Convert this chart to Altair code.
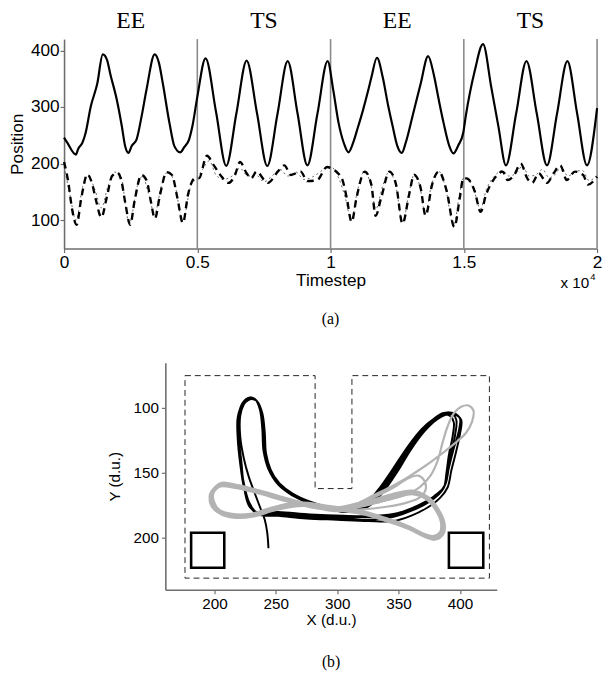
import altair as alt
import pandas as pd

# ---------------- panel (a) data ----------------
solid_t = [0,120,443,530,690,813,998,1245,1453,1614,1737,1983,2168,2291,2414,2537,2722,2907,3091,3400,
           3560,3708,3954,4139,4360,4508,4693,4815,5000,5310,5700,6085,6467,6850,7240,7625,8010,8390,8760,9130,
           9510,9890,10100,10300,10500,10670,10855,11000,11220,11410,11530,11740,11960,12150,12330,12500,12675,12820,13070,13380,
           13660,13870,14050,14240,14450,14610,14790,14980,15070,15410,15720,16030,16300,16580,16965,17350,17735,18120,18500,18885,
           19250,19620,20000]
solid_v = [246,237,216,226,237,255,300,341,393,383,358,312,266,231,219,231,243,283,330,393,
           378,341,272,231,220,229,243,266,318,386,292,196,289,382,289,196,288,381,289,197,
           289,381,330,272,236,220,238,260,295,329,352,387,352,305,266,232,219,237,283,341,
           390,358,315,272,232,218,232,255,283,364,411,335,265,197,289,381,289,197,289,381,
           289,197,298]

dash_t = [0,150,300,470,650,875,1050,1200,1400,1600,1800,2000,2150,2300,2480,2650,2900,3100,3250,3410,
          3600,3850,4050,4250,4460,4650,4900,5060,5360,5620,5864,6170,6415,6600,6850,7020,7220,7530,7650,8020,
          8267,8510,8880,9128,9500,9867,10000,10420,10605,10790,10975,11283,11530,11690,11900,12210,12457,12700,12950,13135,
          13380,13565,13810,14060,14360,14645,14850,14980,15100,15410,15630,15840,16150,16460,16640,16890,17135,17380,17565,17810,
          18120,18370,18620,18860,19170,19475,19660,20000]
dash_v = [203,170,120,92,140,181,165,135,105,140,178,184,170,130,92,135,180,170,135,103,
          145,185,180,140,95,145,174,174,214,197,180,166,180,203,183,174,186,170,166,186,
          197,180,186,169,171,194,192,174,140,97,140,186,163,108,140,186,163,94,146,180,
          157,108,163,186,151,88,140,174,174,151,115,146,174,186,171,180,200,174,166,183,
          166,183,197,171,186,180,163,177]

dot_t = [0,200,450,700,900,1150,1400,1650,1900,2100,2450,2750,2950,3150,3400,3650,3900,4150,4450,4750,
         5000,5200,5450,5700,6000,6300,6600,6900,7200,7500,7800,8100,8400,8700,9000,9300,9600,9900,10000,10300,
         10550,10780,11000,11250,11500,11700,11950,12200,12450,12700,12950,13150,13350,13550,13800,14050,14300,14620,14850,15000,
         15200,15400,15620,15850,16150,16450,16700,17000,17200,17450,17700,17950,18200,18450,18650,18900,19200,19450,19700,20000]
dot_v = [195,150,100,160,180,155,122,160,185,182,95,160,178,150,112,160,186,165,98,160,
         175,190,205,180,172,178,192,178,180,168,178,190,178,185,172,176,185,195,195,175,
         140,100,150,185,165,120,160,186,160,96,150,182,160,112,165,187,160,90,150,175,
         170,150,120,155,178,188,178,185,196,178,180,190,175,182,195,178,186,188,170,180]

sep_t = [5000, 10000, 15000, 20000]
phase_t = [2500, 7500, 12500, 17500]
phase_lbl = ["EE", "TS", "EE", "TS"]
xa_ticks = [0, 5000, 10000, 15000, 20000]
ya_ticks = [100, 200, 300, 400]

# ---------------- panel (b) data ----------------
wall_x = [176, 282, 282, 312, 312, 424, 424, 176, 176]
wall_y = [75, 75, 162, 162, 75, 75, 231, 231, 75]
box_x1 = [181, 391]
box_x2 = [208, 419]
box_y1 = [196, 196]
box_y2 = [223, 223]

black_x = [244,243,241,237,233,228,224,
           221,221,224,229,234,238,240,241,245,253,264,278,292,305,316,325,335,346,358,369,379,387,395,400,399,395,391,388,382,372,361,349,333,305,278,252,234,228,224,221,
           219,220,223,228,233,237,239,240,244,252,263,277,291,305,317,327,337,348,359,370,380,387,392,395,394,391,389,387,381,370,358,345,325,300,275,250,235,228,224,222,
           220,221,224,230,235,239,241,242,246,254,265,279,293,306,318,328,338,349,360,371,381,389,396,401,400,397,393,390,384,373,360,346,325,300,275,252,236,229,224,221,
           219,219,223,229,234,238,240,241,245,253,264,278,292,306,317,326,336,347,358,369,379,386,393,397,396,393,390,387,380,370,357,343,320,295,270,248,234]
black_y = [208,196,186,176,166,153,139,
           122,106,97,92,94,102,116,132,146,158,166,172,176,178,177,172,161,146,129,116,108,104,104,108,118,131,146,159,166,172,177,181,183,183,182,180,180,172,158,140,
           121,104,96,92,93,101,116,133,147,159,167,173,177,179,178,173,163,148,131,117,108,105,106,111,122,136,150,161,168,175,180,184,186,185,184,182,181,175,160,142,
           123,106,97,93,95,104,119,135,148,160,168,174,178,180,179,174,164,149,132,118,109,105,105,109,120,133,148,161,169,177,183,187,187,186,185,183,182,176,161,143,
           124,107,97,93,94,103,118,134,147,158,166,172,176,178,177,172,162,147,130,116,108,104,104,109,121,134,149,161,167,174,179,183,184,184,183,181,181]

gthin_x = [300,315,330,345,358,371,384,396,405,410,411,407,401,395,390,386,382,376,367,355,340,322,300,280,260,240,222,208,200,198,202,212,226,242,260,280,300,
           318,334,348,358,366,371,372,367,356,340,320,300]
gthin_y = [178,174,167,160,153,145,136,127,119,110,102,98,99,104,114,126,140,152,161,167,171,175,178,176,171,165,160,159,164,171,178,182,183,179,174,175,177,
           173,167,160,154,152,156,163,169,173,176,178,178]

gthick_x = [300,280,258,236,218,205,198,198,204,215,230,248,270,295,318,340,358,371,380,386,387,382,374,363,350,335,318,300,
            279,257,235,217,204,197,198,205,216,232,250,272,296,319,341,359,372,379,385,386,381,373,362,349,334,317,299,
            281,259,237,219,206,199,199,204,214,229,247,269,294,317,339,357,370,378,384,385,380,372,361,348,333,316,300,
            280,258,236,218,205,198,197,203,214,230,248,271,297]
gthick_y = [178,175,170,164,160,159,165,173,180,183,183,178,174,177,180,186,192,198,200,197,189,178,169,165,167,171,175,178,
            176,171,165,161,160,166,174,181,184,183,178,175,178,181,187,193,199,201,198,190,179,170,166,168,172,176,179,
            176,170,164,160,158,164,172,179,182,182,177,173,176,179,185,191,197,199,196,188,177,168,164,166,170,174,177,
            175,170,164,160,159,165,173,180,183,183,178,174,177]

xb_ticks = [200, 250, 300, 350, 400]
yb_ticks = [100, 150, 200]

# ---------------- styling ----------------
AX = "#6e6e6e"
SANS = "Liberation Sans"
SERIF = "Liberation Serif"
FA = 17.5   # font size, panel (a)
FB = 15.5   # font size, panel (b)

W_A, H_A = 542, 213
W_B, H_B = 337, 231

xs_a = alt.Scale(domain=[0, 20000], nice=False, zero=False)
ys_a = alt.Scale(domain=[50, 420], nice=False, zero=False)
ax_xa = alt.Axis(values=xa_ticks, labelExpr="datum.value / 10000", title="Timestep", grid=False,
                 labelFlush=False, tickSize=4, labelPadding=1, titlePadding=1,
                 labelFontSize=FA, titleFontSize=FA)
ax_ya = alt.Axis(values=ya_ticks, title="Position", grid=False, tickSize=4, labelPadding=1, titlePadding=4,
                 labelFontSize=FA, titleFontSize=FA)

def X_a():
    return alt.X("t:Q", scale=xs_a, axis=ax_xa)

def Y_a():
    return alt.Y("v:Q", scale=ys_a, axis=ax_ya)

sep_df = pd.DataFrame({"t": sep_t})
solid_df = pd.DataFrame({"t": solid_t, "v": solid_v})
dash_df = pd.DataFrame({"t": dash_t, "v": dash_v})
dot_df = pd.DataFrame({"t": dot_t, "v": dot_v})
phase_df = pd.DataFrame({"t": phase_t, "lbl": phase_lbl})
exp_df = pd.DataFrame({"t": [20000], "s": ["x 10"], "e": ["4"]})

seps = alt.Chart(sep_df).mark_rule(color="#8a8a8a", strokeWidth=1.6).encode(x=X_a())
solid = alt.Chart(solid_df).mark_line(color="black", strokeWidth=2.2, interpolate="monotone").encode(x=X_a(), y=Y_a())
dotted = alt.Chart(dot_df).mark_line(color="#666666", strokeWidth=1, strokeDash=[2, 3], interpolate="monotone").encode(x=X_a(), y=Y_a())
dashed = alt.Chart(dash_df).mark_line(color="black", strokeWidth=2.4, strokeDash=[7, 5], interpolate="monotone").encode(x=X_a(), y=Y_a())
phases = alt.Chart(phase_df).mark_text(font=SERIF, fontSize=24, baseline="middle", color="black").encode(
    x=X_a(), y=alt.value(-18), text="lbl:N")
exp_base = alt.Chart(exp_df).mark_text(font=SANS, fontSize=15.5, align="right", baseline="middle", dx=-8, color="black").encode(
    x=X_a(), y=alt.value(H_A + 35), text="s:N")
exp_pow = alt.Chart(exp_df).mark_text(font=SANS, fontSize=9.5, align="left", baseline="middle", dx=-7, color="black").encode(
    x=X_a(), y=alt.value(H_A + 29), text="e:N")

panel_a = alt.layer(seps, dotted, dashed, solid, phases, exp_base, exp_pow).properties(
    width=W_A, height=H_A,
    title=alt.TitleParams("(a)", orient="bottom", font=SERIF, fontSize=16, fontWeight="normal", offset=20, color="black"),
)

# ---------------- panel (b) ----------------
xs_b = alt.Scale(domain=[160, 430], nice=False, zero=False)
ys_b = alt.Scale(domain=[65, 240], nice=False, zero=False, reverse=True)
ax_xb = alt.Axis(values=xb_ticks, title="X (d.u.)", grid=False, tickSize=4, labelPadding=3, titlePadding=1,
                 labelFontSize=FB, titleFontSize=FB)
ax_yb = alt.Axis(values=yb_ticks, title="Y (d.u.)", grid=False, tickSize=4, labelPadding=3, titlePadding=11,
                 labelFontSize=FB, titleFontSize=FB)

def X_b(f="x"):
    return alt.X(f"{f}:Q", scale=xs_b, axis=ax_xb)

def Y_b(f="y"):
    return alt.Y(f"{f}:Q", scale=ys_b, axis=ax_yb)

wall_df = pd.DataFrame({"x": wall_x, "y": wall_y, "i": list(range(len(wall_x)))})
box_df = pd.DataFrame({"x": box_x1, "x2": box_x2, "y": box_y1, "y2": box_y2})
black_df = pd.DataFrame({"x": black_x, "y": black_y, "i": list(range(len(black_x)))})
gthin_df = pd.DataFrame({"x": gthin_x, "y": gthin_y, "i": list(range(len(gthin_x)))})
gthick_df = pd.DataFrame({"x": gthick_x, "y": gthick_y, "i": list(range(len(gthick_x)))})

walls = alt.Chart(wall_df).mark_line(color="#222222", strokeWidth=1, strokeDash=[6, 4]).encode(
    x=X_b(), y=Y_b(), order="i:Q")
boxes = alt.Chart(box_df).mark_rect(fillOpacity=0, stroke="black", strokeWidth=2.6).encode(
    x=X_b(), x2="x2:Q", y=Y_b(), y2="y2:Q")
black = alt.Chart(black_df).mark_line(color="black", strokeWidth=2.0, interpolate="catmull-rom").encode(
    x=X_b(), y=Y_b(), order="i:Q")
gthin = alt.Chart(gthin_df).mark_line(color="#b3b3b3", strokeWidth=2.2, interpolate="catmull-rom").encode(
    x=X_b(), y=Y_b(), order="i:Q")
gthick = alt.Chart(gthick_df).mark_line(color="#b3b3b3", strokeWidth=3.4, interpolate="catmull-rom").encode(
    x=X_b(), y=Y_b(), order="i:Q")

panel_b = alt.layer(walls, boxes, black, gthin, gthick).properties(
    width=W_B, height=H_B,
    title=alt.TitleParams("(b)", orient="bottom", font=SERIF, fontSize=16, fontWeight="normal", offset=26, color="black"),
)

spacer = alt.Chart(pd.DataFrame({"s": [0]})).mark_point(opacity=0).properties(width=44, height=1)

chart = alt.vconcat(
    panel_a,
    alt.hconcat(spacer, panel_b, spacing=0),
    spacing=33,
).properties(
    padding={"left": 0, "top": -4, "right": 0, "bottom": 0}
).configure_view(stroke=None).configure_axis(
    labelFont=SANS, labelColor="black",
    titleFont=SANS, titleFontWeight="normal", titleColor="black",
    domainColor=AX, domainWidth=1.6, tickColor=AX, tickWidth=1.2,
).configure_concat(spacing=0)

chart.save("out.html", embed_options={"renderer": "svg", "actions": False})
